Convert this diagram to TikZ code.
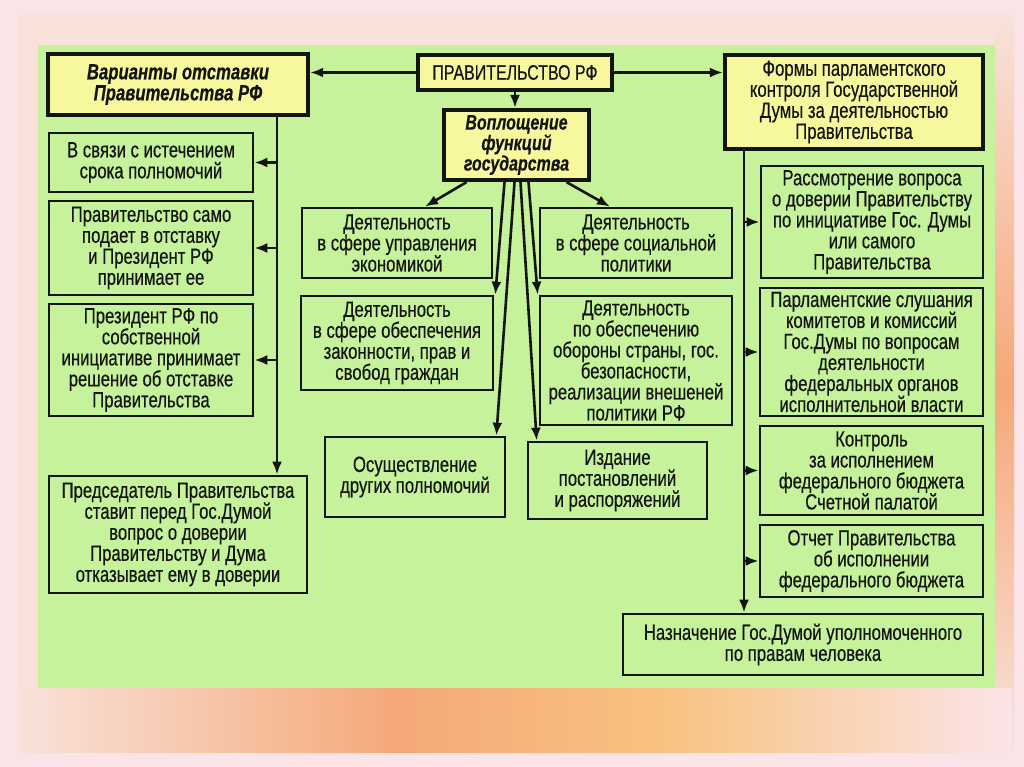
\documentclass[tikz,border=0pt]{standalone}
\usepackage{fontspec}
\setmainfont[FakeStretch=0.76,FakeBold=0.4]{Liberation Sans}
\usetikzlibrary{arrows.meta,calc}
\definecolor{panel}{HTML}{C5F29A}
\definecolor{ylw}{HTML}{F7F79E}
\definecolor{bgpink}{HTML}{FBE4E8}
\definecolor{bgpeach}{HTML}{F8E2DA}
\definecolor{orng}{HTML}{F5A878}
\definecolor{orngy}{HTML}{F8C27E}
\definecolor{ink}{HTML}{141414}
\begin{document}
\begin{tikzpicture}[x=1pt,y=-1pt,
  box/.style={draw=ink, line width=2.7pt, fill=panel, align=center, inner sep=0pt, text=ink,
              font=\fontsize{22}{21}\selectfont},
  ybox/.style={box, fill=ylw, line width=4.2pt},
  arr/.style={draw=ink, line width=2.6pt, -{Latex[length=13pt,width=10pt]}}]
\useasboundingbox (0,0) rectangle (1024,767);
% background
\fill[bgpink] (0,0) rectangle (1024,767);
\fill[bgpeach] (18,14) rectangle (1012,752);
\shade[top color=bgpeach, bottom color=bgpeach, middle color=orng] (995,20) rectangle (1014,750);
\shade[left color=bgpeach, right color=orng] (18,688) rectangle (400,752);
\shade[left color=orng, right color=orngy] (400,688) rectangle (660,752);
\shade[left color=orngy, right color=bgpink] (660,688) rectangle (1012,752);
\fill[panel] (38,45) rectangle (995,688);

% top row
\node[ybox, minimum width=194pt, minimum height=35pt, font=\fontsize{21}{21}\selectfont]
  (gov) at (515,72.5) {ПРАВИТЕЛЬСТВО РФ};
\node[ybox, minimum width=260pt, minimum height=61pt, font=\fontsize{22}{21}\selectfont\bfseries\itshape]
  (var) at (178,84.5) {Варианты отставки\\Правительства РФ};
\node[ybox, minimum width=145pt, minimum height=70pt, font=\fontsize{21}{20.5}\selectfont\bfseries\itshape]
  (emb) at (516.5,145) {Воплощение\\функций\\государства};
\node[ybox, minimum width=258pt, minimum height=94pt]
  (forms) at (854,102) {Формы парламентского\\контроля Государственной\\Думы за деятельностью\\Правительства};

% left column
\node[box, minimum width=204pt, minimum height=59pt] (b1) at (151,162.5)
  {В связи с истечением\\срока полномочий};
\node[box, minimum width=204pt, minimum height=94pt] (b2) at (151,248)
  {Правительство само\\подает в отставку\\и Президент РФ\\принимает ее};
\node[box, minimum width=204pt, minimum height=112pt] (b3) at (151,360)
  {Президент РФ по\\собственной\\инициативе принимает\\решение об отставке\\Правительства};
\node[box, minimum width=258pt, minimum height=117pt] (chair) at (178,534.5)
  {Председатель Правительства\\ставит перед Гос.Думой\\вопрос о доверии\\Правительству и Дума\\отказывает ему в доверии};

% centre
\node[box, minimum width=190pt, minimum height=70pt] (c1) at (397,243)
  {Деятельность\\в сфере управления\\экономикой};
\node[box, minimum width=192pt, minimum height=70pt] (c2) at (636,243)
  {Деятельность\\в сфере социальной\\политики};
\node[box, minimum width=192pt, minimum height=94pt] (c3) at (397,343)
  {Деятельность\\в сфере обеспечения\\законности, прав и\\свобод граждан};
\node[box, minimum width=192pt, minimum height=129pt] (c4) at (636,360.5)
  {Деятельность\\по обеспечению\\обороны страны, гос.\\безопасности,\\реализации внешеней\\политики РФ};
\node[box, minimum width=180pt, minimum height=80pt] (c5) at (415,477)
  {Осуществление\\других полномочий};
\node[box, minimum width=179pt, minimum height=77pt] (c6) at (617.5,480.5)
  {Издание\\постановлений\\и распоряжений};

% right column
\node[box, minimum width=222pt, minimum height=112pt] (r1) at (872,222)
  {Рассмотрение вопроса\\о доверии Правительству\\по инициативе Гос. Думы\\или самого\\Правительства};
\node[box, minimum width=223pt, minimum height=128pt] (r2) at (871.5,352)
  {Парламентские слушания\\комитетов и комиссий\\Гос.Думы по вопросам\\деятельности\\федеральных органов\\исполнительной власти};
\node[box, minimum width=223pt, minimum height=89pt] (r3) at (871.5,470.5)
  {Контроль\\за исполнением\\федерального бюджета\\Счетной палатой};
\node[box, minimum width=223pt, minimum height=72pt] (r4) at (871.5,561)
  {Отчет Правительства\\об исполнении\\федерального бюджета};
\node[box, minimum width=360pt, minimum height=61pt] (r5) at (803,644.5)
  {Назначение Гос.Думой уполномоченного\\по правам человека};

% connectors from the top
\draw[arr] (gov.west) -- (var.east |- gov.west);
\draw[arr] (gov.east) -- (forms.west |- gov.east);
\draw[arr] (gov.south) -- (gov.south |- emb.north);

% left trunk
\coordinate (lt) at (277,117);
\draw[arr] (lt) -- (lt |- chair.north);
\draw[arr] (lt |- b1.east) -- (b1.east);
\draw[arr] (lt |- b2.east) -- (b2.east);
\draw[arr] (lt |- b3.east) -- (b3.east);

% right trunk
\coordinate (rt) at (744,151);
\draw[arr] (rt) -- (rt |- r5.north);
\draw[arr] (rt |- r1.west) -- (r1.west);
\draw[arr] (rt |- r2.west) -- (r2.west);
\draw[arr] (rt |- r3.west) -- (r3.west);
\draw[arr] (rt |- r4.west) -- (r4.west);

% centre fan
\draw[arr] ([xshift=-50pt]emb.south) -- ([xshift=28pt]c1.north);
\draw[arr] ([xshift=50pt]emb.south) -- ([xshift=-26pt]c2.north);
\draw[arr] ([xshift=-12pt]emb.south) -- ([xshift=1pt]c3.north east);
\draw[arr] ([xshift=-2pt]emb.south) -- ([xshift=-10pt]c5.north east);
\draw[arr] ([xshift=4pt]emb.south) -- ([xshift=10pt]c6.north west);
\draw[arr] ([xshift=12pt]emb.south) -- ([xshift=-1pt]c4.north west);
\end{tikzpicture}
\end{document}
